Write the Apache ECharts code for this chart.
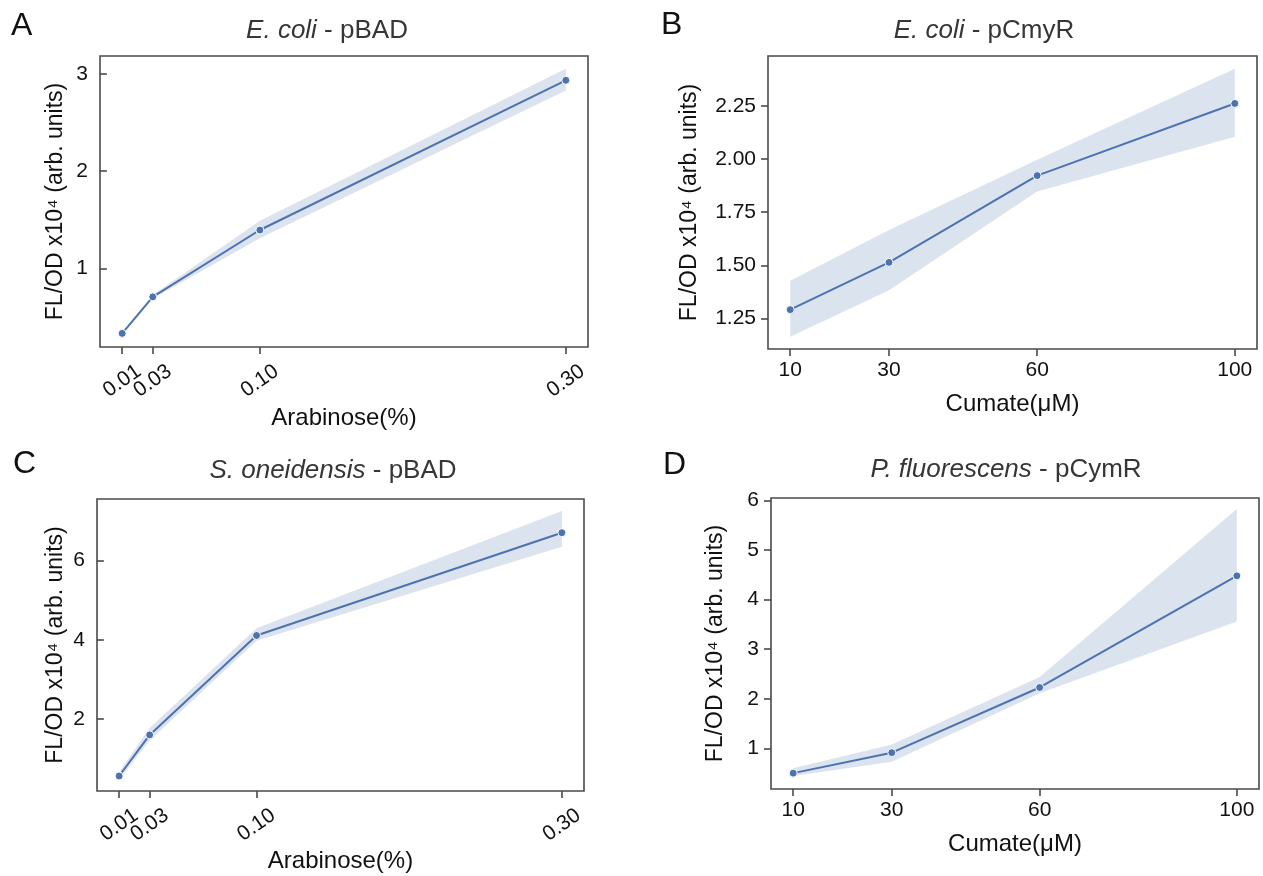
<!DOCTYPE html>
<html>
<head>
<meta charset="utf-8">
<title>Inducible promoter response</title>
<script src="https://cdn.jsdelivr.net/npm/echarts@6/dist/echarts.min.js"></script>
<style>
  html, body { margin: 0; padding: 0; background: #ffffff; }
  #chart { width: 1263px; height: 876px; }
</style>
</head>
<body>
<div id="chart"></div>
<script>
// Inducer concentrations
const arabinose = [0.01, 0.03, 0.10, 0.30];
const cumate = [10, 30, 60, 100];

// Tick positions on the inducer axes
const arabinoseTicks = [0.01, 0.03, 0.10, 0.30];
const cumateTicks = [10, 30, 60, 100];

// A: E. coli - pBAD (mean and 95% CI, FL/OD x10^4)
const ecoliPbadMean = [0.33, 0.706, 1.394, 2.935];
const ecoliPbadLow  = [0.32, 0.69, 1.31, 2.83];
const ecoliPbadHigh = [0.34, 0.725, 1.49, 3.055];
const ecoliPbadTicks = [1, 2, 3];

// B: E. coli - pCmyR
const ecoliCmyrMean = [1.292, 1.514, 1.922, 2.261];
const ecoliCmyrLow  = [1.164, 1.383, 1.847, 2.105];
const ecoliCmyrHigh = [1.428, 1.666, 1.996, 2.424];
const ecoliCmyrTicks = [1.25, 1.50, 1.75, 2.00, 2.25];

// C: S. oneidensis - pBAD
const shewPbadMean = [0.568, 1.604, 4.11, 6.70];
const shewPbadLow  = [0.48, 1.46, 3.98, 6.345];
const shewPbadHigh = [0.67, 1.78, 4.29, 7.25];
const shewPbadTicks = [2, 4, 6];

// D: P. fluorescens - pCymR
const pfluCymrMean = [0.50, 0.913, 2.228, 4.48];
const pfluCymrLow  = [0.44, 0.73, 2.11, 3.56];
const pfluCymrHigh = [0.60, 1.08, 2.44, 5.83];
const pfluCymrTicks = [1, 2, 3, 4, 5, 6];

const FONT = '"Liberation Sans", Arial, Helvetica, sans-serif';
const BLUE = '#4C72B0';
const BAND = 'rgba(76,114,176,0.2)';
const FRAME = '#4a4a4a';
const INK = '#111111';
const YNAME = 'FL/OD x10\u2074 (arb. units)';

const panels = [
  {
    letter: 'A', species: 'E. coli', plasmid: 'pBAD',
    x: arabinose, mean: ecoliPbadMean, low: ecoliPbadLow, high: ecoliPbadHigh,
    xTicks: arabinoseTicks, yTicks: ecoliPbadTicks, xName: 'Arabinose(%)',
    xMin: -0.0045, xMax: 0.3145, yMin: 0.19, yMax: 3.185,
    xFmt: v => v.toFixed(2), yFmt: v => String(v), rotated: true,
    grid: { left: 100, top: 56, width: 488, height: 291 },
    letterPos: [11, 26], titlePos: [327, 31], yNameGap: 33, xNameGap: 59
  },
  {
    letter: 'B', species: 'E. coli', plasmid: 'pCmyR',
    x: cumate, mean: ecoliCmyrMean, low: ecoliCmyrLow, high: ecoliCmyrHigh,
    xTicks: cumateTicks, yTicks: ecoliCmyrTicks, xName: 'Cumate(\u03bcM)',
    xMin: 5.5, xMax: 104.5, yMin: 1.107, yMax: 2.484,
    xFmt: v => String(v), yFmt: v => v.toFixed(2), rotated: false,
    grid: { left: 768, top: 56, width: 489, height: 293 },
    letterPos: [661, 25], titlePos: [984, 31], yNameGap: 67, xNameGap: 43
  },
  {
    letter: 'C', species: 'S. oneidensis', plasmid: 'pBAD',
    x: arabinose, mean: shewPbadMean, low: shewPbadLow, high: shewPbadHigh,
    xTicks: arabinoseTicks, yTicks: shewPbadTicks, xName: 'Arabinose(%)',
    xMin: -0.0045, xMax: 0.3145, yMin: 0.19, yMax: 7.55,
    xFmt: v => v.toFixed(2), yFmt: v => String(v), rotated: true,
    grid: { left: 97, top: 499, width: 487, height: 292 },
    letterPos: [13, 464], titlePos: [333, 471], yNameGap: 30, xNameGap: 58
  },
  {
    letter: 'D', species: 'P. fluorescens', plasmid: 'pCymR',
    x: cumate, mean: pfluCymrMean, low: pfluCymrLow, high: pfluCymrHigh,
    xTicks: cumateTicks, yTicks: pfluCymrTicks, xName: 'Cumate(\u03bcM)',
    xMin: 5.5, xMax: 104.5, yMin: 0.18, yMax: 6.05,
    xFmt: v => String(v), yFmt: v => String(v), rotated: false,
    grid: { left: 771, top: 498, width: 488, height: 291 },
    letterPos: [663, 465], titlePos: [1006, 470], yNameGap: 44, xNameGap: 43
  }
];

const titles = [];
const grids = [];
const xAxes = [];
const yAxes = [];
const series = [];

function xLabelStyle(p, values) {
  const base = {
    customValues: values, formatter: p.xFmt,
    showMinLabel: true, showMaxLabel: true, hideOverlap: false,
    fontFamily: FONT, fontSize: 21, color: INK
  };
  return p.rotated
    ? Object.assign(base, { rotate: 35, align: 'center', verticalAlign: 'middle', margin: 34 })
    : Object.assign(base, { margin: 11 });
}

panels.forEach((p, i) => {
  titles.push({
    text: p.letter, left: p.letterPos[0], top: p.letterPos[1],
    textVerticalAlign: 'middle', padding: 0,
    textStyle: { fontFamily: FONT, fontSize: 32, fontWeight: 'normal', color: INK }
  });
  titles.push({
    text: '{i|' + p.species + '}{n| - ' + p.plasmid + '}',
    left: p.titlePos[0], top: p.titlePos[1],
    textAlign: 'center', textVerticalAlign: 'middle', padding: 0,
    textStyle: {
      fontFamily: FONT, fontSize: 26, fontWeight: 'normal', color: '#363636',
      rich: {
        i: { fontFamily: FONT, fontSize: 26, fontStyle: 'italic', color: '#363636' },
        n: { fontFamily: FONT, fontSize: 26, color: '#363636' }
      }
    }
  });

  grids.push(Object.assign({
    show: true, borderColor: FRAME, borderWidth: 1.6, backgroundColor: 'transparent'
  }, p.grid));

  // Closely spaced ticks (0.01 / 0.03) are labelled from two axes sharing the
  // same scale, so both labels stay visible even though they overlap.
  const evenTicks = p.rotated ? p.xTicks.filter((_, k) => k !== 1) : p.xTicks;
  const oddTicks = p.rotated ? [p.xTicks[1]] : [];

  const mainX = xAxes.length;
  xAxes.push({
    type: 'value', gridIndex: i, min: p.xMin, max: p.xMax,
    name: p.xName, nameLocation: 'middle', nameGap: p.xNameGap,
    nameTextStyle: { fontFamily: FONT, fontSize: 24, color: INK },
    axisLine: { show: false },
    splitLine: { show: false },
    axisTick: { show: true, inside: false, length: 7, customValues: p.xTicks,
      lineStyle: { color: FRAME, width: 1.6 } },
    axisLabel: xLabelStyle(p, evenTicks)
  });
  if (oddTicks.length) {
    xAxes.push({
      type: 'value', gridIndex: i, min: p.xMin, max: p.xMax, position: 'bottom',
      axisLine: { show: false }, splitLine: { show: false }, axisTick: { show: false },
      axisLabel: xLabelStyle(p, oddTicks)
    });
  }

  yAxes.push({
    type: 'value', gridIndex: i, min: p.yMin, max: p.yMax,
    name: YNAME, nameLocation: 'middle', nameRotate: 90, nameGap: p.yNameGap,
    nameTextStyle: { fontFamily: FONT, fontSize: 23, color: INK },
    axisLine: { show: false },
    splitLine: { show: false },
    axisTick: { show: true, inside: false, length: 7, customValues: p.yTicks,
      lineStyle: { color: FRAME, width: 1.6 } },
    axisLabel: { customValues: p.yTicks, formatter: p.yFmt, margin: 12,
      showMinLabel: true, showMaxLabel: true,
      fontFamily: FONT, fontSize: 21, color: INK }
  });

  // 95% confidence band: one polygon through the upper bounds and back along the lower bounds
  series.push({
    type: 'custom', xAxisIndex: mainX, yAxisIndex: i, silent: true, z: 1,
    data: [[p.x[0], p.low[0]]],
    renderItem: function (params, api) {
      const upper = p.x.map((x, k) => api.coord([x, p.high[k]]));
      const lower = p.x.map((x, k) => api.coord([x, p.low[k]])).reverse();
      return {
        type: 'polygon',
        shape: { points: upper.concat(lower) },
        style: { fill: BAND, stroke: null }
      };
    }
  });
  // mean response
  series.push({
    type: 'line', xAxisIndex: mainX, yAxisIndex: i,
    data: p.x.map((x, k) => [x, p.mean[k]]),
    symbol: 'circle', symbolSize: 8, showSymbol: true,
    lineStyle: { color: BLUE, width: 2 },
    itemStyle: { color: BLUE, borderColor: '#ffffff', borderWidth: 1 },
    z: 3
  });
});

const chart = echarts.init(document.getElementById('chart'), null, { renderer: 'canvas' });
chart.setOption({
  animation: false,
  backgroundColor: '#ffffff',
  title: titles,
  grid: grids,
  xAxis: xAxes,
  yAxis: yAxes,
  series: series
});
</script>
</body>
</html>
